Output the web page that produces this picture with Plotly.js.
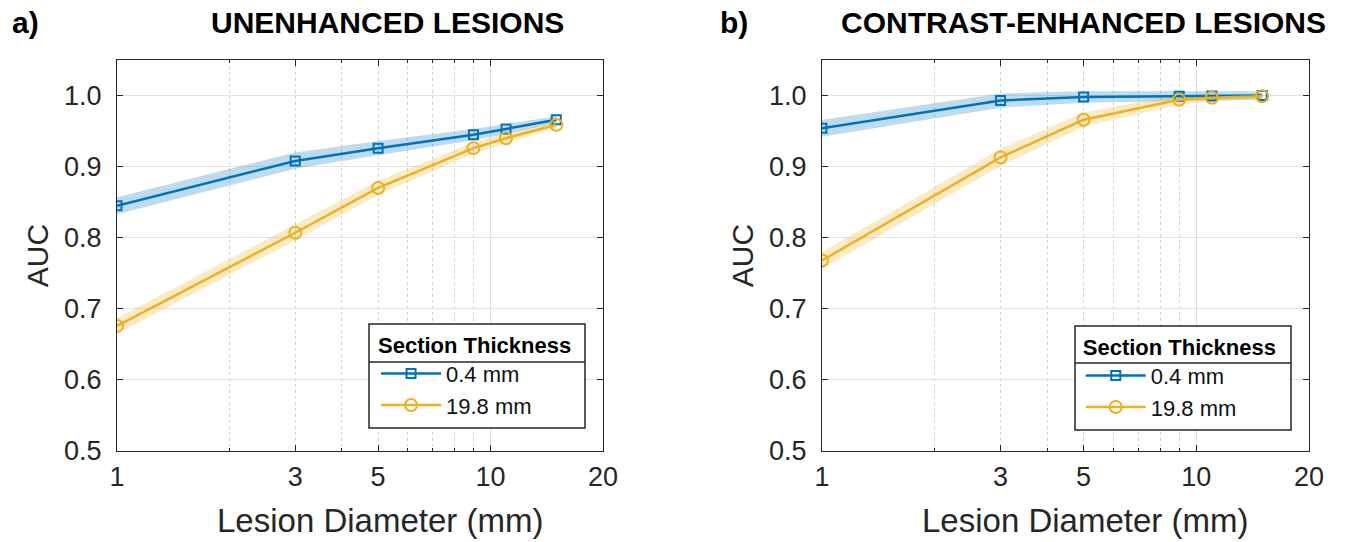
<!DOCTYPE html>
<html>
<head>
<meta charset="utf-8">
<script src="https://cdn.plot.ly/plotly-3.0.1.min.js"></script>
<style>html,body{margin:0;padding:0;background:#fff;}#chart{width:1371px;height:542px;}</style>
</head>
<body>
<div id="chart"></div>
<script>
// Lesion diameters (mm)
const diameters = [1, 3, 5, 9, 11, 15];

// a) Unenhanced lesions
const unenh_thin = [0.845, 0.908, 0.926, 0.945, 0.953, 0.966];
const unenh_thin_lo = [0.833, 0.897, 0.916, 0.937, 0.946, 0.961];
const unenh_thin_hi = [0.857, 0.920, 0.936, 0.953, 0.960, 0.971];
const unenh_thick = [0.676, 0.807, 0.870, 0.926, 0.940, 0.959];
const unenh_thick_lo = [0.665, 0.796, 0.860, 0.918, 0.933, 0.954];
const unenh_thick_hi = [0.687, 0.818, 0.880, 0.934, 0.947, 0.964];

// b) Contrast-enhanced lesions
const enh_thin = [0.954, 0.993, 0.998, 0.999, 0.9995, 1.000];
const enh_thin_lo = [0.942, 0.983, 0.990, 0.992, 0.993, 0.994];
const enh_thin_hi = [0.966, 1.003, 1.006, 1.006, 1.006, 1.006];
const enh_thick = [0.768, 0.913, 0.966, 0.994, 0.997, 0.999];
const enh_thick_lo = [0.756, 0.901, 0.956, 0.987, 0.992, 0.996];
const enh_thick_hi = [0.780, 0.925, 0.976, 1.001, 1.002, 1.002];

const xTickVals = [1, 3, 5, 10, 20];
const xTickText = ['1', '3', '5', '10', '20'];
const xMinorVals = [2, 3, 4, 5, 6, 7, 8, 9];
const yTickVals = [0.5, 0.6, 0.7, 0.8, 0.9, 1.0];

const seriesNames = ['0.4 mm', '19.8 mm'];
const panelTitles = ['UNENHANCED LESIONS', 'CONTRAST-ENHANCED LESIONS'];
const panelLabels = ['a)', 'b)'];
const xTitle = 'Lesion Diameter (mm)';
const yTitle = 'AUC';

const BLUE = '#0072BD', ORANGE = '#EDB120';
const BLUE_FILL = 'rgba(0,114,189,0.25)', ORANGE_FILL = 'rgba(237,177,32,0.25)';

function band(lo, hi, xa, ya, fill, leg) {
  return [
    {x: diameters, y: lo, xaxis: xa, yaxis: ya, mode: 'lines', line: {width: 0, color: fill}, showlegend: false, legend: leg, hoverinfo: 'skip'},
    {x: diameters, y: hi, xaxis: xa, yaxis: ya, mode: 'lines', line: {width: 0, color: fill}, fill: 'tonexty', fillcolor: fill, showlegend: false, legend: leg, hoverinfo: 'skip'}
  ];
}
function line(y, xa, ya, color, symbol, size, name, legend) {
  return {x: diameters, y: y, xaxis: xa, yaxis: ya, mode: 'lines+markers', name: name, legend: legend,
    line: {color: color, width: 2.5},
    marker: {symbol: symbol, size: size, color: color, line: {color: color, width: 2}}};
}

const data = [].concat(
  band(unenh_thin_lo, unenh_thin_hi, 'x', 'y', BLUE_FILL, 'legend'),
  band(unenh_thick_lo, unenh_thick_hi, 'x', 'y', ORANGE_FILL, 'legend'),
  [line(unenh_thin, 'x', 'y', BLUE, 'square-open', 9, seriesNames[0], 'legend'),
   line(unenh_thick, 'x', 'y', ORANGE, 'circle-open', 12, seriesNames[1], 'legend')],
  band(enh_thin_lo, enh_thin_hi, 'x2', 'y2', BLUE_FILL, 'legend2'),
  band(enh_thick_lo, enh_thick_hi, 'x2', 'y2', ORANGE_FILL, 'legend2'),
  [line(enh_thin, 'x2', 'y2', BLUE, 'square-open', 9, seriesNames[0], 'legend2'),
   line(enh_thick, 'x2', 'y2', ORANGE, 'circle-open', 12, seriesNames[1], 'legend2')],
  // invisible traces to anchor the overlay major-grid axes
  [{x: [1, 20], y: [0.5, 0.5], xaxis: 'x3', yaxis: 'y', mode: 'lines', line: {width: 0}, showlegend: false, hoverinfo: 'skip'},
   {x: [1, 20], y: [0.5, 0.5], xaxis: 'x4', yaxis: 'y2', mode: 'lines', line: {width: 0}, showlegend: false, hoverinfo: 'skip'}]
);

const AXC = '#262626';
const FAM = 'Liberation Sans, Arial, sans-serif';
const tickFont = {family: FAM, size: 27, color: AXC};

function xAxis(domain, anchor) {
  return {
    type: 'log', domain: domain, anchor: anchor, range: [0, Math.log10(20)],
    tickvals: xTickVals, ticktext: xTickText, ticks: 'inside', ticklen: 6, tickcolor: AXC, tickwidth: 1,
    ticklabelstandoff: 2,
    showgrid: false, zeroline: false, showline: true, linecolor: AXC, linewidth: 1, mirror: 'ticks',
    tickfont: tickFont,
    minor: {tickvals: xMinorVals, ticks: 'inside', ticklen: 3, tickcolor: AXC, showgrid: true, gridcolor: '#d2d2d2', griddash: 'dot', gridwidth: 1},
    fixedrange: true
  };
}
function xGrid(overlay) {
  return {type: 'log', overlaying: overlay, range: [0, Math.log10(20)], tickvals: [10], showticklabels: false,
    ticks: '', showgrid: true, gridcolor: '#dcdcdc', gridwidth: 1, showline: false, zeroline: false, fixedrange: true};
}
function yAxis(anchor) {
  return {
    range: [0.5, 1.05], anchor: anchor, domain: [0, 1], tickvals: yTickVals, tickformat: '.1f',
    ticks: 'inside', ticklen: 6, tickcolor: AXC, showgrid: true, gridcolor: '#e3e3e3', gridwidth: 1,
    ticklabelstandoff: 9,
    zeroline: false, showline: true, linecolor: AXC, linewidth: 1, mirror: 'ticks', tickfont: tickFont,
    title: {text: yTitle, font: {family: FAM, size: 30, color: AXC}, standoff: 6},
    fixedrange: true
  };
}

const legendCommon = {
  xanchor: 'left', yanchor: 'top', bgcolor: 'rgba(0,0,0,0)', borderwidth: 0,
  font: {family: FAM, size: 22, color: '#111'},
  title: {text: '<b>Section Thickness</b>', side: 'top', font: {family: FAM, size: 22, color: '#000'}},
  itemwidth: 60, tracegroupgap: 0, traceorder: 'normal'
};

const layout = {
  width: 1371, height: 542,
  margin: {l: 117, r: 62, t: 60, b: 91},
  paper_bgcolor: '#ffffff', plot_bgcolor: '#ffffff',
  showlegend: true,
  xaxis: xAxis([0, 0.4077], 'y'),
  xaxis2: xAxis([0.5914, 1], 'y2'),
  xaxis3: xGrid('x'),
  xaxis4: xGrid('x2'),
  yaxis: yAxis('x'),
  yaxis2: yAxis('x2'),
  legend: Object.assign({}, legendCommon, {x: 0.2173, y: 0.3248}),
  legend2: Object.assign({}, legendCommon, {x: 0.8085, y: 0.3197}),
  shapes: [
    // legend frames
    {type: 'rect', layer: 'above', xref: 'paper', yref: 'paper', x0: 0.2114, x1: 0.3926, y0: 0.0588, y1: 0.3248, fillcolor: '#ffffff', line: {color: AXC, width: 1.5}},
    {type: 'line', layer: 'above', xref: 'paper', yref: 'paper', x0: 0.2114, x1: 0.3926, y0: 0.2276, y1: 0.2276, line: {color: AXC, width: 1.5}},
    {type: 'rect', layer: 'above', xref: 'paper', yref: 'paper', x0: 0.8037, x1: 0.9849, y0: 0.0537, y1: 0.3197, fillcolor: '#ffffff', line: {color: AXC, width: 1.5}},
    {type: 'line', layer: 'above', xref: 'paper', yref: 'paper', x0: 0.8037, x1: 0.9849, y0: 0.2251, y1: 0.2251, line: {color: AXC, width: 1.5}}
  ],
  annotations: [
    {text: '<b>' + panelTitles[0] + '</b>', xref: 'paper', yref: 'paper', x: 0.2273, y: 1.097, xanchor: 'center', yanchor: 'middle', showarrow: false,
     font: {family: FAM, size: 30, color: '#000'}},
    {text: '<b>' + panelTitles[1] + '</b>', xref: 'paper', yref: 'paper', x: 0.8112, y: 1.097, xanchor: 'center', yanchor: 'middle', showarrow: false,
     font: {family: FAM, size: 30, color: '#000'}},
    {text: '<b>' + panelLabels[0] + '</b>', xref: 'paper', yref: 'paper', x: -0.0898, y: 1.097, xanchor: 'left', yanchor: 'middle', showarrow: false,
     font: {family: FAM, size: 30, color: '#000'}},
    {text: '<b>' + panelLabels[1] + '</b>', xref: 'paper', yref: 'paper', x: 0.5042, y: 1.097, xanchor: 'left', yanchor: 'middle', showarrow: false,
     font: {family: FAM, size: 30, color: '#000'}},
    {text: xTitle, xref: 'paper', yref: 'paper', x: 0.2206, y: -0.1765, xanchor: 'center', yanchor: 'middle', showarrow: false,
     font: {family: FAM, size: 33, color: AXC}},
    {text: xTitle, xref: 'paper', yref: 'paper', x: 0.8121, y: -0.1765, xanchor: 'center', yanchor: 'middle', showarrow: false,
     font: {family: FAM, size: 33, color: AXC}}
  ]
};

Plotly.newPlot('chart', data, layout, {staticPlot: true, displayModeBar: false});
</script>
</body>
</html>
